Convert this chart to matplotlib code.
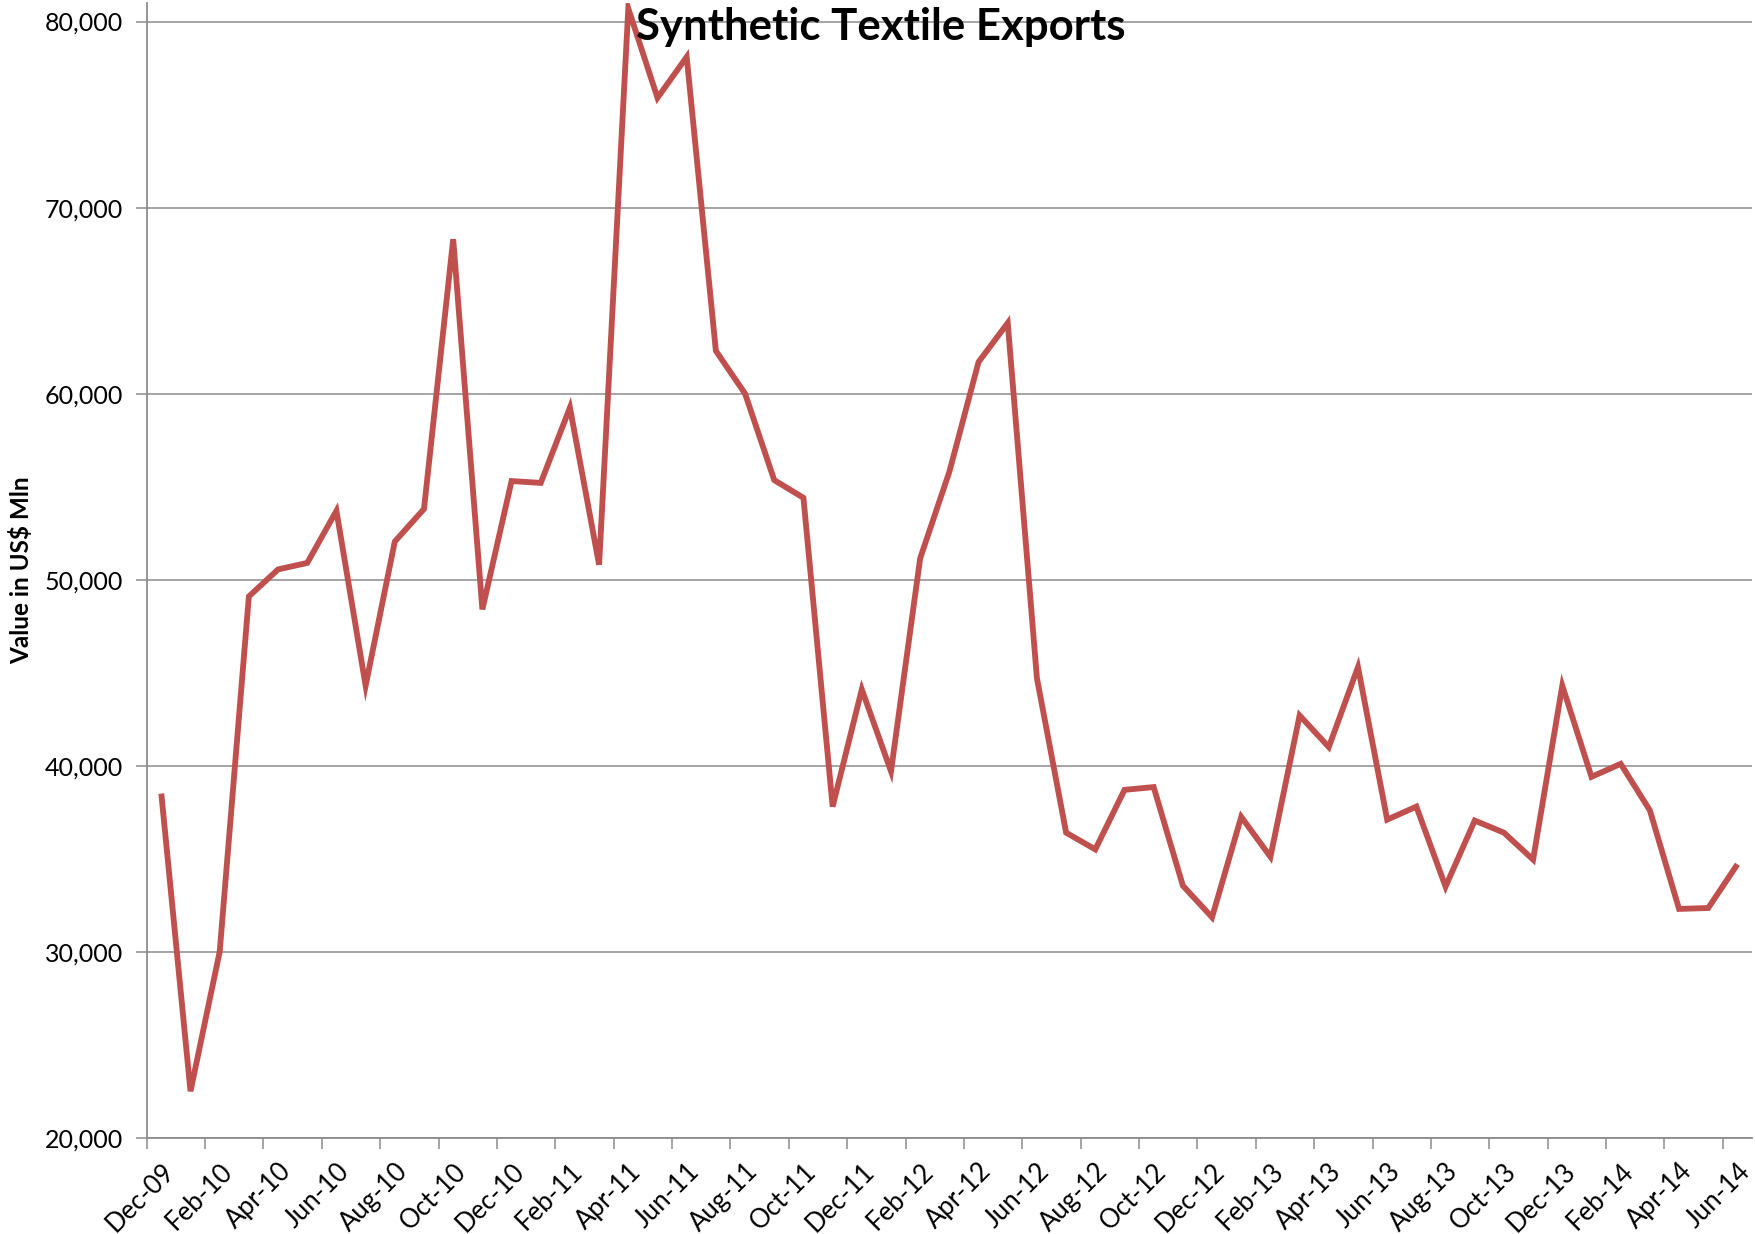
import numpy as np
import pandas as pd
import matplotlib
matplotlib.use("Agg")
import matplotlib.pyplot as plt
from matplotlib.ticker import FuncFormatter

# ---- donnees : exportations mensuelles (US$ Mln), Dec-09 -> Jun-14 ----
months = [d.strftime("%b-%y") for d in pd.date_range("2009-12-01", "2014-06-01", freq="MS")]
exports = [
    38500, 22500, 30000, 49100, 50550, 50900, 53700, 44300, 52050, 53800,
    68300, 48400, 55300, 55200, 59250, 50800, 80700, 75900, 78100, 62300,
    60000, 55350, 54400, 37800, 44100, 39700, 51150, 55800, 61700, 63800,
    44700, 36400, 35500, 38700, 38850, 33550, 31850, 37250, 35100, 42700,
    41000, 45300, 37100, 37800, 33500, 37050, 36400, 34950, 44300, 39400,
    40100, 37600, 32300, 32350, 34700,
]
y_ticks = [20000, 30000, 40000, 50000, 60000, 70000, 80000]

plt.rcParams["font.family"] = ["Lato", "DejaVu Sans"]

fig = plt.figure(figsize=(17.55, 12.34), dpi=100)
ax = fig.add_axes([0.0836, 0.078, 0.9147, 0.9196])

x = np.arange(len(months))
ax.plot(x, exports, color="#C0504D", linewidth=4.2,
        solid_joinstyle="miter", solid_capstyle="butt", zorder=3)

# axe y
ax.set_ylim(20000, 81000)
ax.set_yticks(y_ticks)
ax.yaxis.set_major_formatter(FuncFormatter(lambda v, p: f"{int(v):,}"))
ax.grid(axis="y", color="#8c8c8c", linewidth=1.1, zorder=1)
ax.tick_params(axis="y", length=8, width=1.1, color="#8c8c8c", labelsize=18, pad=9)
ax.set_ylabel("Value in US$ Mln", fontsize=17.5, fontweight="bold")
ax.yaxis.set_label_coords(-0.0705, 0.5)

# axe x : categories, graduations entre les categories
ax.set_xlim(-0.5, len(months) - 0.5)
ax.set_xticks(x[::2])
ax.set_xticklabels(months[::2], rotation=45, ha="right", va="top",
                   rotation_mode="anchor", fontsize=18.5)
ax.set_xticks(np.arange(-0.5, len(months) - 1, 2), minor=True)
ax.tick_params(axis="x", which="major", length=0, pad=15)
ax.tick_params(axis="x", which="minor", length=8, width=1.1, color="#8c8c8c")

for s in ["top", "right"]:
    ax.spines[s].set_visible(False)
for s in ["left", "bottom"]:
    ax.spines[s].set_color("#8c8c8c")
    ax.spines[s].set_linewidth(1.3)

fig.text(0.502, 1 - 27 / 1234, "Synthetic Textile Exports", ha="center", va="center",
         fontsize=31.5, fontweight="bold", zorder=5)

fig.savefig("out.png", dpi=100)
